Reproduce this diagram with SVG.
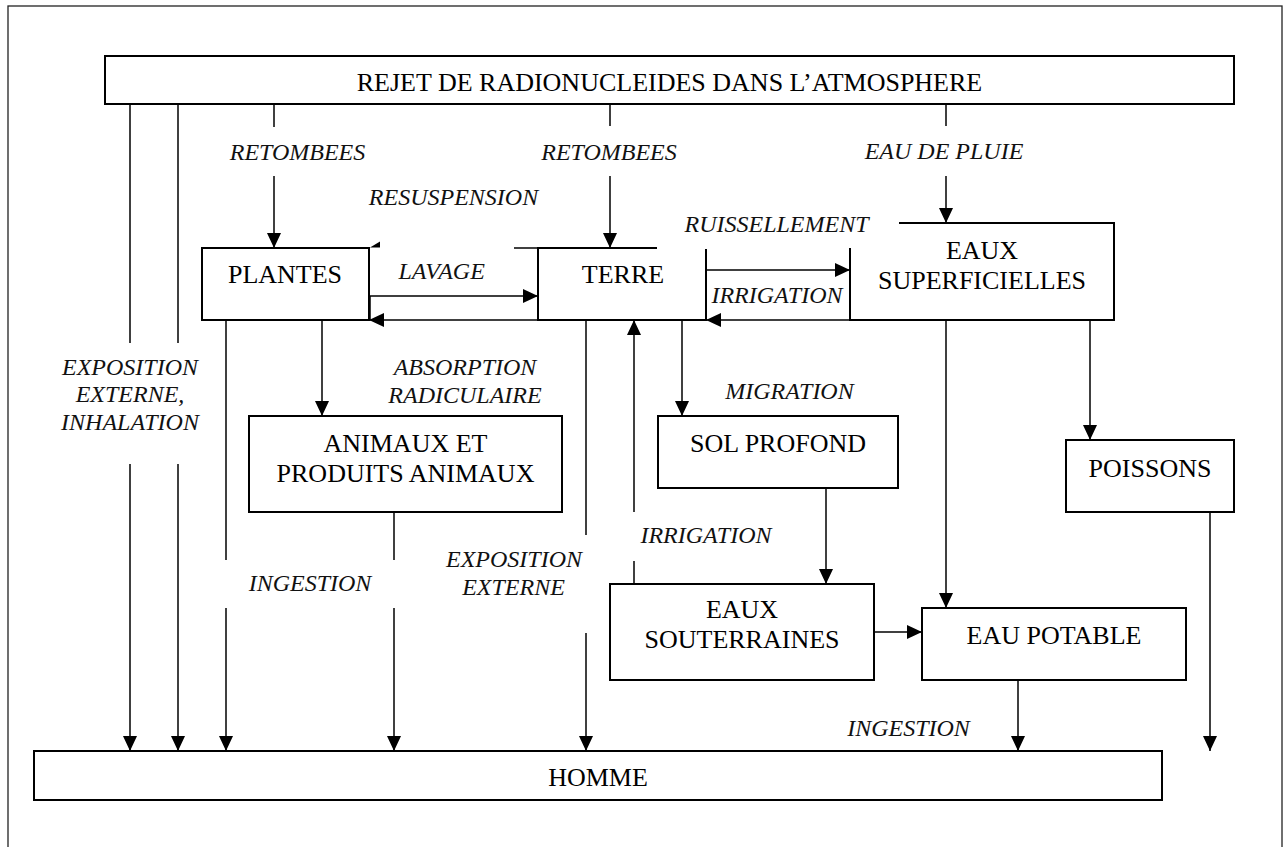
<svg xmlns="http://www.w3.org/2000/svg" width="1287" height="847" viewBox="0 0 1287 847">
<defs>
<marker id="ah" viewBox="0 0 15 14" refX="15" refY="7" markerWidth="15" markerHeight="14" markerUnits="userSpaceOnUse" orient="auto">
<path d="M0,0 L15,7 L0,14 z" fill="#000"/>
</marker>
<style>
.box{fill:#fff;stroke:#000;stroke-width:2}
.open{fill:none;stroke:#000;stroke-width:2}
.ln{fill:none;stroke:#000;stroke-width:1.5}
.ar{fill:none;stroke:#000;stroke-width:1.5;marker-end:url(#ah)}
text{font-family:'Liberation Serif','Times New Roman',Tinos,'DejaVu Serif',serif}
.t{font-size:26px;fill:#000;text-anchor:middle}
.i{font-size:24px;font-style:italic;fill:#111;text-anchor:middle}
</style>
</defs>
<rect x="0" y="0" width="1287" height="847" fill="#fff"/>
<rect x="8" y="6" width="1274" height="860" fill="none" stroke="#222" stroke-width="1.3"/>

<g id="connectors">
<line class="ln" x1="130" y1="104" x2="130" y2="343"/>
<line class="ar" x1="130" y1="464" x2="130" y2="751"/>
<line class="ln" x1="178" y1="104" x2="178" y2="343"/>
<line class="ar" x1="178" y1="464" x2="178" y2="751"/>
<line class="ln" x1="274" y1="104" x2="274" y2="127"/>
<line class="ar" x1="274" y1="176" x2="274" y2="248"/>
<line class="ln" x1="610" y1="104" x2="610" y2="126"/>
<line class="ar" x1="610" y1="176" x2="610" y2="248"/>
<line class="ln" x1="946" y1="104" x2="946" y2="126"/>
<line class="ar" x1="946" y1="176" x2="946" y2="223"/>
<line class="ln" x1="226" y1="320" x2="226" y2="560"/>
<line class="ar" x1="226" y1="608" x2="226" y2="751"/>
<line class="ar" x1="322" y1="320" x2="322" y2="416"/>
<line class="ln" x1="394" y1="512" x2="394" y2="560"/>
<line class="ar" x1="394" y1="608" x2="394" y2="751"/>
<line class="ln" x1="586" y1="320" x2="586" y2="535"/>
<line class="ar" x1="586" y1="633" x2="586" y2="751"/>
<line class="ln" x1="634" y1="584" x2="634" y2="561"/>
<line class="ar" x1="634" y1="512" x2="634" y2="320"/>
<line class="ar" x1="682" y1="320" x2="682" y2="416"/>
<line class="ar" x1="826" y1="488" x2="826" y2="584"/>
<line class="ar" x1="874" y1="632" x2="922" y2="632"/>
<line class="ar" x1="946" y1="320" x2="946" y2="608"/>
<line class="ar" x1="1090" y1="320" x2="1090" y2="440"/>
<line class="ar" x1="1210" y1="512" x2="1210" y2="751"/>
<line class="ar" x1="1018" y1="680" x2="1018" y2="751"/>
<line class="ln" x1="514" y1="248" x2="538" y2="248"/>
<polygon points="370,247.5 380,241.5 380,247.5" fill="#000"/>
<polyline class="ar" points="370,320 370,296 538,296"/>
<line class="ar" x1="538" y1="320" x2="369" y2="320"/>
<line class="ar" x1="706" y1="270" x2="850" y2="270"/>
<line class="ar" x1="850" y1="320" x2="706" y2="320"/>
</g>

<g id="rejet">
<rect class="box" x="105" y="56" width="1129" height="48"/>
<text class="t" x="669.5" y="91">REJET DE RADIONUCLEIDES DANS L’ATMOSPHERE</text>
</g>
<g id="plantes">
<rect class="box" x="202" y="248" width="167" height="72"/>
<text class="t" x="285" y="283">PLANTES</text>
</g>
<g id="terre">
<path class="open" d="M657,248 H538 V320 H706 V249"/>
<text class="t" x="623" y="283">TERRE</text>
</g>
<g id="eaux-superficielles">
<path class="open" d="M899,223 H1114 V320 H850 V248"/>
<text class="t" x="982" y="259">EAUX</text>
<text class="t" x="982" y="289">SUPERFICIELLES</text>
</g>
<g id="animaux">
<rect class="box" x="249" y="416" width="313" height="96"/>
<text class="t" x="405.5" y="452">ANIMAUX ET</text>
<text class="t" x="405.5" y="482">PRODUITS ANIMAUX</text>
</g>
<g id="sol-profond">
<rect class="box" x="658" y="416" width="240" height="72"/>
<text class="t" x="778" y="452">SOL PROFOND</text>
</g>
<g id="poissons">
<rect class="box" x="1066" y="440" width="168" height="72"/>
<text class="t" x="1150" y="477">POISSONS</text>
</g>
<g id="eaux-souterraines">
<rect class="box" x="610" y="584" width="264" height="96"/>
<text class="t" x="742" y="618">EAUX</text>
<text class="t" x="742" y="648">SOUTERRAINES</text>
</g>
<g id="eau-potable">
<rect class="box" x="922" y="608" width="264" height="72"/>
<text class="t" x="1054" y="644">EAU POTABLE</text>
</g>
<g id="homme">
<rect class="box" x="34" y="751" width="1128" height="49"/>
<text class="t" x="598" y="786">HOMME</text>
</g>

<g id="labels">
<text class="i" x="297.5" y="160">RETOMBEES</text>
<text class="i" x="609" y="159.5">RETOMBEES</text>
<text class="i" x="944" y="158.5">EAU DE PLUIE</text>
<text class="i" x="453.5" y="205">RESUSPENSION</text>
<text class="i" x="776.5" y="232">RUISSELLEMENT</text>
<text class="i" x="441.7" y="279">LAVAGE</text>
<text class="i" x="777" y="302.5">IRRIGATION</text>
<text class="i" x="130" y="375">EXPOSITION</text>
<text class="i" x="130" y="402">EXTERNE,</text>
<text class="i" x="130" y="430">INHALATION</text>
<text class="i" x="465" y="375">ABSORPTION</text>
<text class="i" x="465" y="402.7">RADICULAIRE</text>
<text class="i" x="789.5" y="399">MIGRATION</text>
<text class="i" x="310" y="590.7">INGESTION</text>
<text class="i" x="514" y="566.7">EXPOSITION</text>
<text class="i" x="513.5" y="595">EXTERNE</text>
<text class="i" x="706" y="543">IRRIGATION</text>
<text class="i" x="908.5" y="736">INGESTION</text>
</g>
</svg>
